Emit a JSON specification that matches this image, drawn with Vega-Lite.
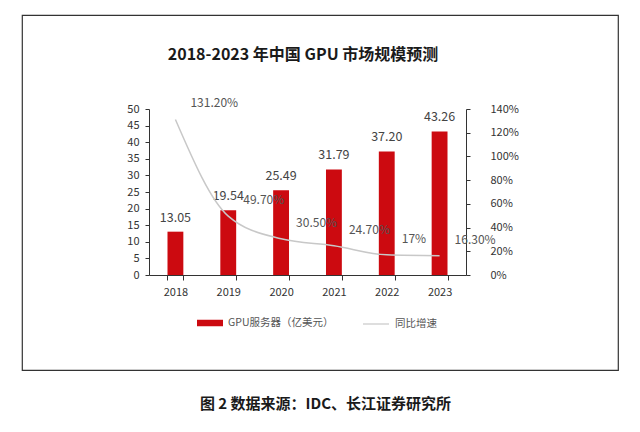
{
  "$schema": "https://vega.github.io/schema/vega-lite/v6.json",
  "autosize": "none",
  "width": 596,
  "height": 355,
  "padding": {"left": 22, "top": 15, "right": 22, "bottom": 62},
  "background": "white",
  "config": {
    "font": "Noto Sans CJK SC",
    "view": {"stroke": "#333333", "strokeWidth": 1.2},
    "axis": {"labelFont": "Noto Sans CJK SC", "labelColor": "#333333", "labelFontSize": 11, "domainColor": "#333333", "tickColor": "#333333", "grid": false}
  },
  "title": {
    "text": "2018-2023 年中国 GPU 市场规模预测",
    "fontSize": 16,
    "fontWeight": "bold",
    "color": "#1a1a1a",
    "anchor": "middle",
    "dx": -17,
    "offset": -48
  },
  "data": {
    "values": [
      {"year": "2018", "value": 13.05, "growth": 1.312, "growthLabel": "131.20%"},
      {"year": "2019", "value": 19.54, "growth": 0.497, "growthLabel": "49.70%"},
      {"year": "2020", "value": 25.49, "growth": 0.305, "growthLabel": "30.50%"},
      {"year": "2021", "value": 31.79, "growth": 0.247, "growthLabel": "24.70%"},
      {"year": "2022", "value": 37.2, "growth": 0.17, "growthLabel": "17%"},
      {"year": "2023", "value": 43.26, "growth": 0.163, "growthLabel": "16.30%"}
    ]
  },
  "encoding": {
    "x": {
      "field": "year",
      "type": "nominal",
      "scale": {"range": [127, 444], "paddingInner": 0.7, "paddingOuter": 0.35},
      "axis": {
        "labelAngle": 0,
        "offset": -95,
        "tickBand": "extent",
        "tickSize": 5,
        "labelPadding": 6,
        "title": "图 2  数据来源：IDC、长江证券研究所",
        "titleFontSize": 15,
        "titleFontWeight": "bold",
        "titleColor": "#1a1a1a",
        "titleX": 303,
        "titleY": 128,
        "titleBaseline": "middle",
        "titleAnchor": "start",
        "titleAlign": "center"
      }
    }
  },
  "layer": [
    {
      "encoding": {
        "y": {
          "field": "value",
          "type": "quantitative",
          "scale": {"domain": [0, 50], "range": [260, 94]},
          "axis": {"orient": "left", "offset": -127, "values": [0, 5, 10, 15, 20, 25, 30, 35, 40, 45, 50], "title": null, "tickSize": 4, "labelPadding": 6}
        }
      },
      "layer": [
        {
          "mark": {"type": "bar"},
          "encoding": {
            "color": {
              "datum": "GPU服务器（亿美元）",
              "scale": {"range": ["#cc0a10"]},
              "legend": {
                "orient": "none",
                "legendX": 175,
                "legendY": 295,
                "title": null,
                "symbolType": "M-1,-0.25H1V0.25H-1Z",
                "symbolSize": 676,
                "symbolStrokeWidth": 0,
                "labelFontSize": 10.5,
                "labelColor": "#555555",
                "labelOffset": 5
              }
            }
          }
        },
        {
          "mark": {"type": "text", "baseline": "bottom", "dy": -7, "fontSize": 12.5, "color": "#444444"},
          "encoding": {"text": {"field": "value", "type": "quantitative", "format": ".2f"}}
        }
      ]
    },
    {
      "encoding": {
        "y": {
          "field": "growth",
          "type": "quantitative",
          "scale": {"domain": [0, 1.4], "range": [260, 94]},
          "axis": {"orient": "right", "offset": -152, "format": ".0%", "values": [0, 0.2, 0.4, 0.6, 0.8, 1.0, 1.2, 1.4], "title": null, "tickSize": 4, "labelPadding": 20}
        }
      },
      "layer": [
        {
          "mark": {"type": "line", "interpolate": "monotone", "strokeWidth": 1.5},
          "encoding": {
            "stroke": {
              "datum": "同比增速",
              "scale": {"range": ["#c8c8c8"]},
              "legend": {
                "orient": "none",
                "legendX": 340,
                "legendY": 295,
                "title": null,
                "symbolType": "stroke",
                "symbolSize": 676,
                "symbolStrokeWidth": 1.2,
                "labelFontSize": 10.5,
                "labelColor": "#555555",
                "labelOffset": 5
              }
            }
          }
        },
        {
          "mark": {"type": "text", "align": "left", "baseline": "middle", "dx": 15, "dy": -16, "fontSize": 12, "color": "#555555"},
          "encoding": {"text": {"field": "growthLabel", "type": "nominal"}}
        }
      ]
    }
  ],
  "resolve": {"scale": {"y": "independent", "color": "independent", "stroke": "independent"}}
}
